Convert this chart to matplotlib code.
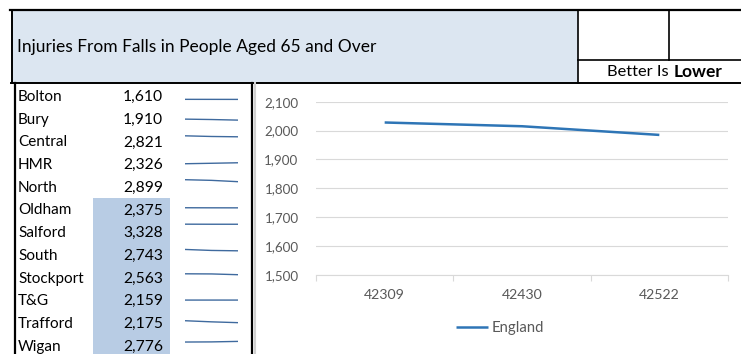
import matplotlib
matplotlib.use("Agg")
import matplotlib.pyplot as plt
import numpy as np

plt.rcParams['font.family'] = ['Lato', 'DejaVu Sans']

# data
title = "Injuries From Falls in People Aged 65 and Over"
districts = ["Bolton", "Bury", "Central", "HMR", "North", "Oldham", "Salford",
             "South", "Stockport", "T&G", "Trafford", "Wigan"]
latest = [1610, 1910, 2821, 2326, 2899, 2375, 3328, 2743, 2563, 2159, 2175, 2776]
highlighted = ["Oldham", "Salford", "South", "Stockport", "T&G", "Trafford", "Wigan"]
spark = [
    [1620, 1615, 1610],
    [2060, 2000, 1910],
    [2970, 2870, 2821],
    [2180, 2250, 2326],
    [3200, 3100, 2899],
    [2390, 2380, 2375],
    [3340, 3330, 3328],
    [2950, 2800, 2743],
    [2700, 2680, 2563],
    [2160, 2160, 2159],
    [2470, 2300, 2175],
    [2680, 2700, 2776],
]
periods = ["42309", "42430", "42522"]
england = [2028, 2015, 1985]

W, H = 741, 354
fig = plt.figure(figsize=(W / 100, H / 100), dpi=100)
renderer = fig.canvas.get_renderer()


def size_for(s, width_px, weight="normal"):
    # font size (pt) that makes string s about width_px wide
    t = fig.text(0, 0, s, fontsize=10, fontweight=weight)
    w = t.get_window_extent(renderer).width
    t.remove()
    return 10 * width_px / w


bg = fig.add_axes([0, 0, 1, 1])
bg.set_xlim(0, W)
bg.set_ylim(H, 0)
bg.axis("off")

# header
bg.fill_between([11, 578], 10, 83, color="#DCE6F1", lw=0)
bg.plot([10, W], [10, 10], color="black", lw=1.6)
bg.plot([11, W], [83, 83], color="black", lw=1.4)
bg.plot([11.5, 11.5], [10, 83], color="black", lw=1.4)
bg.plot([578, 578], [10, 83], color="black", lw=1.2)
bg.plot([669, 669], [10, 60], color="black", lw=1.2)
bg.plot([578, W], [60, 60], color="black", lw=1.2)
bg.text(17, 47, title, fontsize=size_for(title, 358), va="center", ha="left")
fs_hdr = size_for("Better Is ", 66)
bg.text(607, 72, "Better Is", fontsize=fs_hdr, va="center", ha="left")
bg.text(674, 72, "Lower", fontsize=size_for("Lower", 49, "bold"), va="center", ha="left",
        fontweight="bold")

# table
row_h = 22.7
y0 = 96
fs_name = size_for("Bolton", 45)
fs_val = size_for("1,610", 40)
bg.plot([14.5, 14.5], [83, H], color="black", lw=1.6)
bg.plot([252, 252], [83, H], color="black", lw=1.6)
bg.plot([254.5, 254.5], [83, H], color="#D0D0D0", lw=1.5)
first_hl = districts.index(highlighted[0])
bg.fill_between([93, 170], y0 + first_hl * row_h - row_h / 2, H, color="#B8CCE4", lw=0)

for i, (name, val) in enumerate(zip(districts, latest)):
    yc = y0 + i * row_h
    bg.text(18, yc + 1, name, fontsize=fs_name, va="center", ha="left")
    bg.text(163, yc + 1, f"{val:,}", fontsize=fs_val, va="center", ha="right")
    top = yc - row_h / 2
    sax = fig.add_axes([185 / W, 1 - (top + row_h) / H, 53 / W, row_h / H])
    sax.plot(range(len(spark[i])), spark[i], color="#3F6A9E", lw=1.0)
    sax.set_xlim(0, len(spark[i]) - 1)
    sax.set_ylim(407, 3843)
    sax.axis("off")

# chart
grey = "#595959"
fs_y = size_for("2,100", 34)
fs_x = size_for("42309", 41)
fs_leg = size_for("England", 52)
ax = fig.add_axes([316 / W, 1 - 275 / H, (728 - 316) / W, (275 - 101.7) / H])
x = np.arange(len(periods))
ax.plot(x, england, color="#2E75B6", lw=1.8, label="England", solid_capstyle="butt")
ax.set_xlim(-0.5, len(periods) - 0.5)
ax.set_ylim(1500, 2100)
ax.set_yticks(np.arange(1500, 2101, 100))
ax.set_yticklabels([f"{v:,}" for v in range(1500, 2101, 100)])
ax.set_xticks(x)
ax.set_xticklabels(periods)
ax.set_xticks(np.arange(-0.5, len(periods)), minor=True)
ax.tick_params(axis="y", length=0, pad=12.5, labelsize=fs_y, labelcolor=grey)
ax.tick_params(axis="x", which="major", length=0, pad=10, labelsize=fs_x, labelcolor=grey)
ax.tick_params(axis="x", which="minor", length=4, color="#D9D9D9", width=0.8)
ax.grid(axis="y", color="#D9D9D9", lw=0.8)
ax.set_axisbelow(True)
for s in ["left", "right", "top"]:
    ax.spines[s].set_visible(False)
ax.spines["bottom"].set_color("#D9D9D9")
ax.spines["bottom"].set_linewidth(0.8)
ax.legend(loc="center", bbox_to_anchor=(500 / W, 1 - 328 / H), bbox_transform=fig.transFigure,
          frameon=False, fontsize=fs_leg, handlelength=2.2, handletextpad=0.25,
          labelcolor=grey, borderpad=0)

fig.savefig("out.png", dpi=100)
